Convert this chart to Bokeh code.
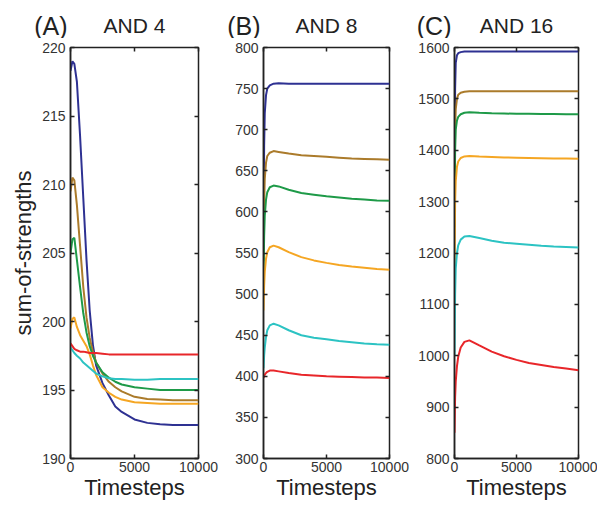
from bokeh.plotting import figure
from bokeh.models import Range1d, FixedTicker, LinearAxis, Label
from bokeh.layouts import row, column
from bokeh.embed import file_html
from bokeh.resources import INLINE

# ---------------- data ----------------
series_colors = ["#2e3192", "#ab7b2b", "#1e9a48", "#f5a623", "#2cc3c3", "#e8262a"]

# Panel A : AND 4
t_a = [0, 150, 300, 500, 750, 1000, 1250, 1500, 1750, 2000, 2500, 3000, 3500, 4000,
       5000, 6000, 7000, 8000, 9000, 10000]
a_blue = [218.3, 219.0, 218.8, 217.5, 213.5, 209.0, 204.5, 200.8, 198.3, 196.8, 195.5,
          194.6, 193.8, 193.4, 192.85, 192.6, 192.5, 192.45, 192.45, 192.45]
a_brown = [209.5, 210.5, 210.3, 208.5, 205.5, 202.5, 200.3, 198.8, 197.8, 197.0, 196.2,
           195.6, 195.2, 194.9, 194.5, 194.35, 194.3, 194.25, 194.25, 194.25]
a_green = [205.0, 206.0, 206.1, 204.5, 202.5, 200.6, 199.2, 198.2, 197.5, 197.0, 196.3,
           195.9, 195.6, 195.4, 195.2, 195.1, 195.0, 195.0, 195.0, 195.0]
a_gold = [199.5, 200.2, 200.3, 199.6, 199.0, 198.6, 198.2, 197.6, 196.8, 196.1, 195.2,
          194.8, 194.5, 194.3, 194.1, 194.05, 194.0, 194.0, 194.0, 194.0]
a_red = [198.4, 198.2, 198.0, 197.9, 197.8, 197.8, 197.75, 197.7, 197.7, 197.7, 197.65,
         197.6, 197.6, 197.6, 197.6, 197.6, 197.6, 197.6, 197.6, 197.6]
a_cyan = [198.1, 197.9, 197.7, 197.5, 197.3, 197.0, 196.8, 196.6, 196.4, 196.2, 196.0,
          195.85, 195.8, 195.8, 195.75, 195.75, 195.8, 195.8, 195.8, 195.8]

# Panel B : AND 8
t_b = [0, 50, 100, 200, 300, 500, 800, 1200, 2000, 3000, 4000, 5000, 6000, 7000, 8000,
       9000, 10000]
b_blue = [560, 680, 720, 742, 750, 754, 756, 756.5, 756, 756, 756, 756, 756, 756, 756, 756, 756]
b_brown = [540, 610, 640, 660, 668, 672, 674, 673, 671, 669, 668, 667, 666, 665, 664.5, 664, 663.5]
b_green = [520, 570, 595, 615, 624, 630, 632, 631, 627, 623, 621, 619, 617.5, 616, 615, 614, 613.5]
b_gold = [480, 510, 527, 543, 551, 557, 559, 557, 551, 545, 541, 538, 535.5, 533.5, 532, 530.5, 529.5]
b_cyan = [410, 425, 435, 448, 456, 462, 464, 462, 456, 450, 447, 445, 443, 441.5, 440, 439, 438.5]
b_red = [398, 400, 402, 404, 405.5, 407, 407, 406, 404, 402, 401, 400, 399.5, 399, 398.5, 398.5, 398]

# Panel C : AND 16
t_c = [0, 50, 100, 200, 300, 500, 800, 1200, 2000, 3000, 4000, 5000, 6000, 7000, 8000,
       9000, 10000]
c_blue = [1300, 1520, 1570, 1585, 1589, 1591, 1592, 1592, 1592, 1592, 1592, 1592, 1592, 1592,
          1592, 1592, 1592]
c_brown = [1300, 1440, 1480, 1500, 1508, 1512, 1514, 1515, 1515, 1515, 1515, 1515, 1515, 1515,
           1515, 1515, 1515]
c_green = [1250, 1400, 1440, 1458, 1465, 1470, 1473, 1474, 1473, 1472, 1471.5, 1471, 1471,
           1470.5, 1470.5, 1470, 1470]
c_gold = [1150, 1300, 1340, 1368, 1378, 1385, 1388, 1389, 1388, 1387, 1386, 1385.5, 1385,
          1384.5, 1384, 1384, 1383.5]
c_cyan = [1000, 1120, 1170, 1200, 1215, 1226, 1232, 1233, 1229, 1224, 1220, 1218, 1216, 1214,
          1212.5, 1211.5, 1210.5]
c_red = [850, 920, 950, 980, 998, 1016, 1027, 1030, 1020, 1008, 999, 992, 986, 982, 978, 975, 972]

x_ticks = [0, 5000, 10000]
a_yticks = [190, 195, 200, 205, 210, 215, 220]
b_yticks = [300, 350, 400, 450, 500, 550, 600, 650, 700, 750, 800]
c_yticks = [800, 900, 1000, 1100, 1200, 1300, 1400, 1500, 1600]

panel_letters = ["(A)", "(B)", "(C)"]
panel_titles = ["AND 4", "AND 8", "AND 16"]

FONT = "Liberation Sans"
TOTAL_W = 597
TOTAL_H = 503
TITLE_H = 38
TITLE_MID = 25       # vertical centre of the titles, px from the top
TOP = 9
BOTTOM = 45
INK = "#222222"


def make_panel(t, ys, yticks, width, left, right, ylabel=None):
    y0, y1 = yticks[0], yticks[-1]
    p = figure(width=width, height=TOTAL_H - TITLE_H, x_range=Range1d(0, 10000),
               y_range=Range1d(y0, y1), output_backend="svg", toolbar_location=None,
               min_border_left=left, min_border_right=right,
               min_border_top=TOP, min_border_bottom=BOTTOM)
    p.xgrid.grid_line_color = None
    p.ygrid.grid_line_color = None
    p.outline_line_color = INK
    p.outline_line_width = 1.5
    p.background_fill_color = "white"
    p.border_fill_color = "white"

    for ax, ticks in ((p.xaxis, x_ticks), (p.yaxis, yticks)):
        ax.ticker = FixedTicker(ticks=ticks)
        ax.major_tick_in = 4
        ax.major_tick_out = 0
        ax.major_tick_line_color = INK
        ax.major_tick_line_width = 1.5
        ax.minor_tick_line_color = None
        ax.axis_line_color = INK
        ax.axis_line_width = 1.5
        ax.major_label_text_font = FONT
        ax.major_label_text_font_size = "14px"
        ax.major_label_text_color = "#333333"
        ax.major_label_standoff = 5
    p.xaxis.major_label_standoff = 3
    p.xaxis.axis_label = "Timesteps"
    p.xaxis.axis_label_text_font = FONT
    p.xaxis.axis_label_text_font_size = "22px"
    p.xaxis.axis_label_text_font_style = "normal"
    p.xaxis.axis_label_text_color = INK
    p.xaxis.axis_label_standoff = 0
    if ylabel:
        p.yaxis.axis_label = ylabel
        p.yaxis.axis_label_text_font = FONT
        p.yaxis.axis_label_text_font_size = "22px"
        p.yaxis.axis_label_text_font_style = "normal"
        p.yaxis.axis_label_text_color = INK
        p.yaxis.axis_label_standoff = 3

    # mirrored inside ticks on the right and top
    for loc, ticks in (("right", yticks), ("above", x_ticks)):
        ax = LinearAxis(ticker=FixedTicker(ticks=ticks), major_tick_in=4, major_tick_out=0,
                        major_tick_line_color=INK, major_tick_line_width=1.5,
                        minor_tick_line_color=None, axis_line_color=None,
                        major_label_text_font_size="1px", major_label_text_alpha=0,
                        major_label_standoff=0)
        p.add_layout(ax, loc)

    for y, c in zip(ys, series_colors):
        p.line(t, y, line_color=c, line_width=2)
    return p


# (width, left border, right border) of each panel
geom = [(226, 70, 28), (186, 37, 23), (185, 42, 19)]
specs = [
    (t_a, [a_blue, a_brown, a_green, a_gold, a_cyan, a_red], a_yticks, "sum-of-strengths"),
    (t_b, [b_blue, b_brown, b_green, b_gold, b_cyan, b_red], b_yticks, None),
    (t_c, [c_blue, c_brown, c_green, c_gold, c_cyan, c_red], c_yticks, None),
]

panels = []
for (t, ys, yt, yl), (w, l, r) in zip(specs, geom):
    panels.append(make_panel(t, ys, yt, w, l, r, ylabel=yl))

# one strip above the three panels for the panel titles
head = figure(width=TOTAL_W, height=TITLE_H, title=None, x_range=Range1d(0, TOTAL_W),
              y_range=Range1d(0, TITLE_H), output_backend="svg", toolbar_location=None,
              x_axis_type=None, y_axis_type=None, min_border=0)
head.xgrid.grid_line_color = None
head.ygrid.grid_line_color = None
head.outline_line_color = None
head.border_fill_color = "white"
x_start = 0
for i, (w, l, r) in enumerate(geom):
    frame_left = x_start + l
    frame_mid = frame_left + (w - l - r) / 2
    head.add_layout(Label(x=frame_left - 3, y=TITLE_H - TITLE_MID, text=panel_letters[i],
                          text_font=FONT, text_font_size="25px", text_align="right",
                          text_baseline="middle", text_color=INK))
    head.add_layout(Label(x=frame_mid, y=TITLE_H - TITLE_MID, text=panel_titles[i],
                          text_font=FONT, text_font_size="21px", text_align="center",
                          text_baseline="middle", text_color=INK))
    x_start += w

layout = column(head, row(*panels, spacing=0), spacing=0)
open("out.html", "w").write(file_html(layout, INLINE))
